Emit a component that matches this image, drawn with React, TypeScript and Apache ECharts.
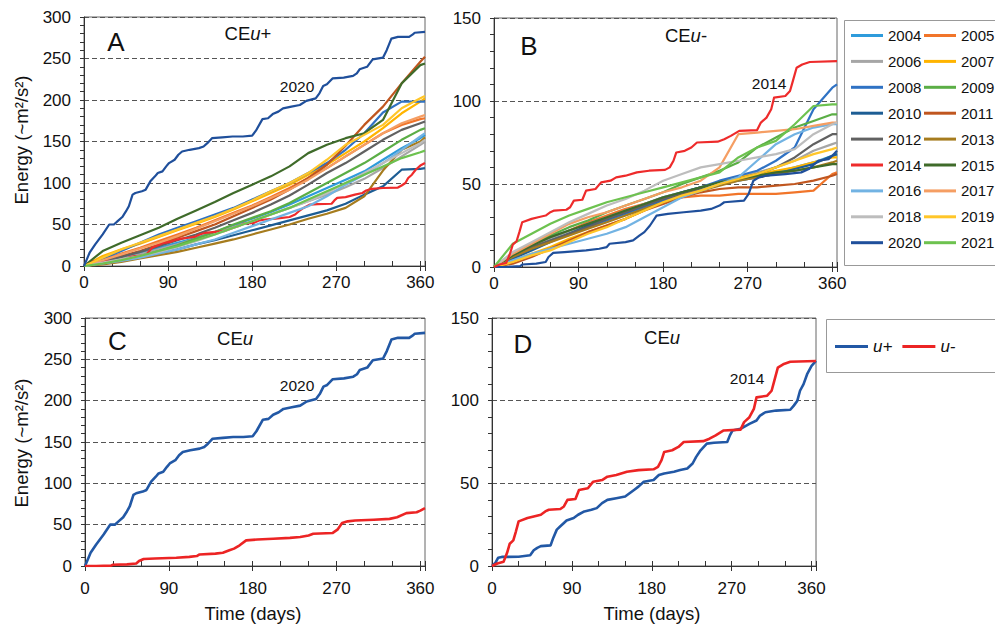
import React, { useEffect, useRef } from "react";
import * as echarts from "echarts";

// Sample days for the yearly cumulative curves
const DAYS = [0, 20, 40, 60, 80, 100, 120, 140, 160, 180, 200, 220, 240, 260, 280, 300, 320, 340, 360, 365];

const YEARS = ["2004", "2005", "2006", "2007", "2008", "2009", "2010", "2011", "2012", "2013", "2014", "2015", "2016", "2017", "2018", "2019", "2020", "2021"];
const YEAR_COLORS = ["#2E9BDB", "#F1752A", "#A6A6A6", "#FFB400", "#2F72C4", "#5BAE46", "#1D5D94", "#C0561F", "#616161", "#A67C1E", "#EE2B2B", "#3F6B2A", "#72B3E3", "#F59E63", "#BDBDBD", "#FFC629", "#1F4F9B", "#6DC24F"];

// Detailed cumulative curves [day, energy]
const U_PLUS_2020: [number, number][] = [[0,0],[3,8],[6,16],[12,26],[20,38],[27,50],[32,50],[36,54],[41,59],[45,66],[48,72],[52,86],[55,88],[62,90],[66,92],[71,102],[76,108],[79,112],[84,114],[88,120],[91,124],[97,128],[101,134],[105,138],[113,140],[123,142],[128,144],[132,148],[137,154],[148,155],[159,156],[170,156],[180,157],[184,163],[191,177],[197,178],[202,183],[208,186],[213,190],[222,192],[231,194],[238,199],[248,202],[252,208],[256,217],[260,219],[266,226],[278,227],[288,229],[292,232],[295,237],[303,240],[309,249],[320,251],[324,260],[329,274],[336,276],[348,276],[352,279],[354,281],[365,282]];
const U_MINUS_2020: [number, number][] = [[0,0],[12,0],[28,0.5],[30,1.5],[45,2],[55,3],[58,6],[63,8.5],[75,9],[98,10],[112,11],[120,12],[123,14],[140,15],[148,16],[155,19],[160,21],[166,25],[173,31],[185,32],[202,33],[220,34],[231,35],[240,37],[245,39],[266,40],[271,44],[276,52],[282,54],[290,55],[310,56],[327,57],[335,59],[345,64],[356,65],[360,67],[365,70]];
const U_PLUS_2014: [number, number][] = [[0,0],[4,2],[7,5],[11,5.5],[30,5.6],[43,6.5],[47,9.5],[51,11],[55,12],[66,12.5],[69,17],[73,22],[77,24],[81,26],[84,27.5],[92,29],[97,31],[104,33],[112,34],[118,35],[124,38],[130,40],[140,41],[150,42],[155,44],[160,46],[165,48],[171,51],[182,52],[188,55],[194,56],[205,57],[212,58],[220,59],[226,62],[230,66],[235,70],[242,74],[250,74.5],[265,75],[268,79],[271,82],[280,83],[290,86],[298,88],[302,91],[308,93],[320,94],[336,94.5],[340,97],[344,100],[347,106],[351,110],[355,116],[360,121],[365,124]];
const U_MINUS_2014: [number, number][] = [[0,0],[6,1.5],[13,2.5],[17,8],[20,13.5],[24,15.5],[27,21],[30,27],[40,29],[47,30],[55,31],[60,33],[64,34],[77,34.5],[81,36],[85,40],[94,40.5],[98,46],[108,47],[114,51],[124,52],[130,54],[140,55],[152,57],[165,58],[182,58.5],[187,60],[191,64],[194,69],[203,70],[210,72],[216,75],[238,75.5],[245,77],[252,79],[261,82],[280,82.5],[284,87],[290,90],[295,95],[298,102],[310,103],[315,106],[318,112],[322,120],[328,122],[336,123.5],[365,124]];

// CEu+ per year, values at DAYS
const UP_2004 = [0,5,10,16,22,28,34,41,49,57,65,74,84,94,104,114,128,142,154,158];
const UP_2005 = [0,8,15,22,30,38,46,55,64,73,83,94,106,118,132,146,160,170,177,178];
const UP_2006 = [0,4,9,14,20,26,33,40,47,54,62,70,78,86,95,105,118,132,146,150];
const UP_2007 = [0,12,20,27,35,43,51,59,68,78,88,98,110,122,136,150,166,184,198,202];
const UP_2008 = [0,9,18,28,38,46,54,62,70,80,90,100,112,124,140,160,185,198,198,198];
const UP_2009 = [0,3,7,12,18,25,33,41,50,58,66,76,88,100,112,124,138,152,164,166];
const UP_2010 = [0,3,7,11,15,20,26,31,37,43,49,55,61,67,75,86,96,116,117,118];
const UP_2011 = [0,6,12,18,26,34,42,50,60,70,80,92,106,122,145,170,192,220,246,252];
const UP_2012 = [0,5,11,17,24,31,38,46,55,64,74,85,98,112,124,138,152,164,172,174];
const UP_2013 = [0,2,5,9,13,17,22,27,32,38,44,50,57,63,70,84,115,140,150,155];
const UP_2015 = [0,18,28,37,46,57,67,77,88,98,108,120,136,146,154,160,176,220,242,244];
const UP_2016 = [0,3,6,10,15,20,26,32,40,48,56,64,72,84,98,110,124,140,156,160];
const UP_2017 = [0,7,14,21,28,36,45,54,63,72,82,92,104,118,132,146,160,172,180,182];
const UP_2018 = [0,4,8,12,17,23,30,38,46,54,62,70,78,88,100,112,124,136,148,152];
const UP_2019 = [0,10,20,28,36,44,52,60,69,79,90,100,112,128,146,158,170,190,202,205];
const UP_2021 = [0,3,7,12,18,24,31,38,46,54,62,70,80,90,100,110,120,130,137,139];

// CEu- per year, values at DAYS
const UM_2004 = [0,8,13,18,22,26,30,34,38,42,45,48,51,53,55,57,60,63,67,68];
const UM_2005 = [0,6,12,17,22,27,31,35,38,41,42,43,43,44,44,44,45,46,56,57];
const UM_2006 = [0,7,12,17,21,26,30,34,38,42,45,48,51,54,57,60,64,70,74,75];
const UM_2007 = [0,4,8,12,17,21,25,29,34,40,44,48,51,54,56,58,60,63,66,66];
const UM_2008 = [0,6,11,16,20,24,28,32,36,40,44,48,52,55,58,64,72,95,108,110];
const UM_2009 = [0,8,14,19,24,28,33,37,41,45,50,54,58,63,72,78,84,88,92,92];
const UM_2010 = [0,5,10,15,20,25,29,33,37,41,45,48,50,52,54,56,59,62,67,68];
const UM_2011 = [0,2,6,11,16,21,25,29,34,38,42,45,47,48,48,49,50,52,55,56];
const UM_2012 = [0,7,12,16,20,24,29,33,37,41,44,47,50,53,56,60,66,74,80,80];
const UM_2013 = [0,6,11,15,19,23,27,31,35,39,43,46,49,52,54,56,58,60,63,64];
const UM_2015 = [0,7,13,18,22,26,30,34,38,42,45,48,51,53,55,57,58,60,62,62];
const UM_2016 = [0,4,8,11,14,17,20,24,30,36,42,46,50,54,64,74,80,84,86,86];
const UM_2017 = [0,8,14,20,26,30,33,37,41,45,48,52,60,80,81,82,83,85,87,87];
const UM_2018 = [0,9,15,21,27,32,37,41,46,52,56,60,62,64,66,68,71,80,86,87];
const UM_2019 = [0,3,7,10,15,20,24,29,34,39,43,46,50,53,56,60,64,68,71,72];
const UM_2021 = [0,14,20,26,31,35,39,42,45,48,51,54,57,66,72,76,86,97,98,98];

const PLUS_BY_YEAR: Record<string, number[] | [number, number][]> = {
  "2004": UP_2004, "2005": UP_2005, "2006": UP_2006, "2007": UP_2007, "2008": UP_2008, "2009": UP_2009,
  "2010": UP_2010, "2011": UP_2011, "2012": UP_2012, "2013": UP_2013, "2014": U_PLUS_2014, "2015": UP_2015,
  "2016": UP_2016, "2017": UP_2017, "2018": UP_2018, "2019": UP_2019, "2020": U_PLUS_2020, "2021": UP_2021,
};
const MINUS_BY_YEAR: Record<string, number[] | [number, number][]> = {
  "2004": UM_2004, "2005": UM_2005, "2006": UM_2006, "2007": UM_2007, "2008": UM_2008, "2009": UM_2009,
  "2010": UM_2010, "2011": UM_2011, "2012": UM_2012, "2013": UM_2013, "2014": U_MINUS_2014, "2015": UM_2015,
  "2016": UM_2016, "2017": UM_2017, "2018": UM_2018, "2019": UM_2019, "2020": U_MINUS_2020, "2021": UM_2021,
};

const BLUE = "#2258A5";
const RED = "#EC2424";
const FONT = "'Liberation Sans', Arial, sans-serif";
const INK = "#111";

function toPairs(v: number[] | [number, number][]): [number, number][] {
  if (Array.isArray(v[0])) return v as [number, number][];
  return (v as number[]).map((y, i) => [DAYS[i], y]);
}

function buildOption() {
  const grids = [
    { left: 84, top: 17, width: 341, height: 249, yMax: 300, labelMargin: 8 },
    { left: 494, top: 18, width: 343, height: 249, yMax: 150, labelMargin: 8 },
    { left: 85, top: 318, width: 340, height: 248, yMax: 300, labelMargin: 14 },
    { left: 492, top: 318, width: 324, height: 248, yMax: 150, labelMargin: 14 },
  ];

  const grid = grids.map((g) => ({
    left: g.left, top: g.top, width: g.width, height: g.height,
    show: true, borderColor: "#666", borderWidth: 1, backgroundColor: "transparent",
    outerBoundsMode: "none",
  }));

  const xAxis: any[] = [];
  const yAxis: any[] = [];
  grids.forEach((g, i) => {
    xAxis.push({
      gridIndex: i, type: "value", min: 0, max: 365, interval: 90, position: "bottom",
      axisLine: { show: true, onZero: false, lineStyle: { color: "#333", width: 1 } },
      axisTick: { show: true, inside: false, length: 5, lineStyle: { color: "#333" } },
      axisLabel: {
        margin: g.labelMargin, fontSize: 17, fontFamily: FONT, color: INK,
        formatter: (v: number) => (v <= 360 && v % 90 === 0 ? String(v) : ""),
      },
      splitLine: { show: false },
    });
    xAxis.push({
      gridIndex: i, type: "value", min: 0, max: 365, interval: 30, position: "bottom",
      axisLine: { show: false },
      axisTick: { show: true, inside: true, length: 5, lineStyle: { color: "#333" } },
      axisLabel: { show: false },
      splitLine: { show: false },
    });
    yAxis.push({
      gridIndex: i, type: "value", min: 0, max: g.yMax, interval: 50, position: "left",
      axisLine: { show: true, lineStyle: { color: "#333", width: 1 } },
      axisTick: { show: false },
      axisLabel: { margin: 13, fontSize: 17, fontFamily: FONT, color: INK },
      splitLine: { show: true, lineStyle: { type: [5, 3], color: "#555", width: 1 } },
    });
    yAxis.push({
      gridIndex: i, type: "value", min: 0, max: g.yMax, interval: 10, position: "left",
      axisLine: { show: false },
      axisTick: { show: true, inside: false, length: 4, lineStyle: { color: "#333" } },
      axisLabel: { show: false },
      splitLine: { show: false },
    });
  });

  const lineSeries = (name: string, color: string, data: [number, number][], gi: number, width: number, z = 2) => ({
    type: "line", name, color, data,
    xAxisIndex: gi * 2, yAxisIndex: gi * 2,
    showSymbol: false, symbol: "none", silent: true, z,
    emphasis: { disabled: true },
    lineStyle: { width, color, join: "round" },
  });

  const series: any[] = [];
  YEARS.forEach((y, k) => {
    series.push(lineSeries(y, YEAR_COLORS[k], toPairs(PLUS_BY_YEAR[y]), 0, 2.2, y === "2020" ? 4 : 2));
  });
  YEARS.forEach((y, k) => {
    series.push(lineSeries(y, YEAR_COLORS[k], toPairs(MINUS_BY_YEAR[y]), 1, 2.2, y === "2014" ? 4 : 2));
  });
  series.push(lineSeries("u+", BLUE, U_PLUS_2020, 2, 2.6));
  series.push(lineSeries("u-", RED, U_MINUS_2020, 2, 2.6));
  series.push(lineSeries("u+", BLUE, U_PLUS_2014, 3, 2.6));
  series.push(lineSeries("u-", RED, U_MINUS_2014, 3, 2.6, 3));

  const legendCommon = {
    orient: "vertical", itemGap: 10.9, itemWidth: 32, itemHeight: 3, icon: "rect",
    padding: 0, selectedMode: false,
    textStyle: { fontSize: 15, fontFamily: FONT, color: INK },
  };
  const legend = [
    { ...legendCommon, left: 851, top: 28, data: YEARS.filter((_, i) => i % 2 === 0) },
    { ...legendCommon, left: 924, top: 28, data: YEARS.filter((_, i) => i % 2 === 1) },
    {
      orient: "horizontal", left: 835, top: 338, itemGap: 10, itemWidth: 33, itemHeight: 3, icon: "rect",
      padding: 0, selectedMode: false, data: ["u+", "u-"],
      textStyle: { fontSize: 17, fontFamily: FONT, fontStyle: "italic", color: INK },
    },
  ];

  const txt = (text: string, x: number, y: number, size: number, extra: any = {}) => ({
    type: "text", x, y, silent: true, ...extra,
    style: { text, fontSize: size, fontFamily: FONT, fill: INK, align: "center", verticalAlign: "middle" },
  });
  const ceTitle = (suffix: string, x: number, y: number) => ({
    type: "text", x, y, silent: true,
    style: {
      text: `{n|CE}{i|u}{n|${suffix}}`, align: "center", verticalAlign: "middle",
      rich: {
        n: { fontSize: 18.5, fontFamily: FONT, fill: INK },
        i: { fontSize: 18.5, fontFamily: FONT, fontStyle: "italic", fill: INK },
      },
    },
  });

  const graphic = [
    { type: "rect", silent: true, shape: { x: 844.5, y: 20.5, width: 170, height: 245 }, style: { fill: "none", stroke: "#999", lineWidth: 1 } },
    { type: "rect", silent: true, shape: { x: 826.5, y: 319.5, width: 190, height: 53 }, style: { fill: "none", stroke: "#999", lineWidth: 1 } },
    txt("A", 116, 42, 26),
    txt("B", 529, 46, 26),
    txt("C", 117.5, 341, 26),
    txt("D", 523, 344, 26),
    ceTitle("+", 248, 33),
    ceTitle("-", 686, 35),
    ceTitle("", 235, 338),
    ceTitle("", 662, 337),
    txt("2020", 297, 86, 15.5),
    txt("2014", 769, 83, 15.5),
    txt("2020", 297, 385, 15.5),
    txt("2014", 747, 378, 15.5),
    txt("Energy (~m²/s²)", 21, 140, 18.5, { rotation: Math.PI / 2 }),
    txt("Energy (~m²/s²)", 21, 443, 18.5, { rotation: Math.PI / 2 }),
    txt("Time (days)", 253, 613, 18.5),
    txt("Time (days)", 652, 613, 18.5),
  ];

  return {
    animation: false,
    backgroundColor: "#fff",
    textStyle: { fontFamily: FONT },
    grid, xAxis, yAxis, series, legend, graphic,
  };
}

export default function App() {
  const ref = useRef<HTMLDivElement>(null);
  useEffect(() => {
    if (!ref.current) return;
    const chart = echarts.init(ref.current, undefined, { renderer: "svg" });
    chart.setOption(buildOption() as any);
    return () => chart.dispose();
  }, []);
  return (
    <div
      ref={ref}
      style={{ position: "fixed", left: 0, top: 0, width: 995, height: 628, background: "#fff" }}
    />
  );
}
